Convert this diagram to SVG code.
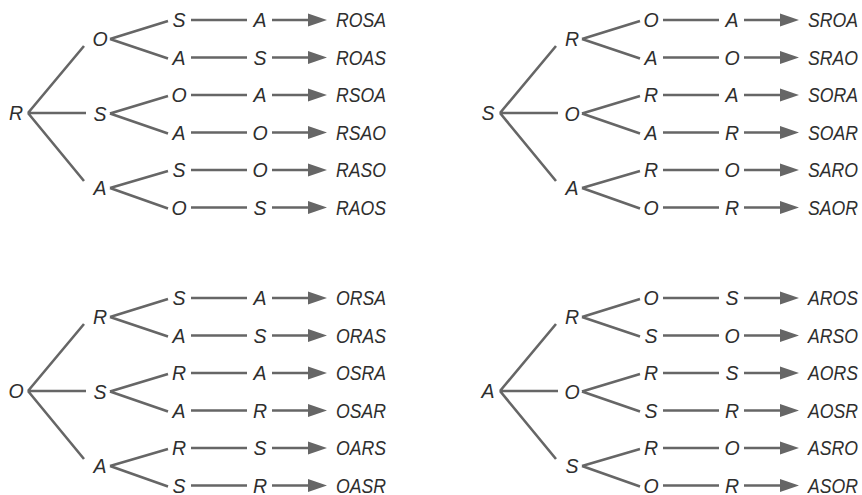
<svg xmlns="http://www.w3.org/2000/svg" width="862" height="495" viewBox="0 0 862 495">
<style>
text{font-family:"Liberation Sans",Arial,sans-serif;font-style:italic;font-size:19.5px;fill:#2e2e2e}
.c{text-anchor:middle}
.e path{fill:none;stroke:#666;stroke-width:2.6}
.e .a{marker-end:url(#ah)}
</style>
<defs>
<marker id="ah" markerUnits="userSpaceOnUse" markerWidth="20" markerHeight="14" refX="10" refY="6.5" orient="auto" overflow="visible">
<path d="M0,0 L19,6.5 L0,13 z" fill="#666"/>
</marker>
<g id="edges" class="e">
<path d="M28,113 L84,46 M28,113 L86,113 M28,113 L84,181"/>
<path d="M110,39 L168,21 M110,39 L168,58.5 M110,113.5 L168,96 M110,113.5 L168,133.5 M110,188 L168,171 M110,188 L168,208.5"/>
<path d="M191,20 L247,20 M191,57.5 L247,57.5 M191,95 L247,95 M191,132.5 L247,132.5 M191,170 L247,170 M191,207.5 L247,207.5"/>
<path class="a" d="M272,20 L318,20"/>
<path class="a" d="M272,57.5 L318,57.5"/>
<path class="a" d="M272,95 L318,95"/>
<path class="a" d="M272,132.5 L318,132.5"/>
<path class="a" d="M272,170 L318,170"/>
<path class="a" d="M272,207.5 L318,207.5"/>
</g>
</defs>
<g id="connectors">
<use href="#edges"/>
<use href="#edges" x="472"/>
<use href="#edges" y="278"/>
<use href="#edges" x="472" y="278"/>
</g>
<g id="tree-R">
<g id="R-root"><text class="c" x="16" y="119.5">R</text></g>
<g id="R-O"><text class="c" x="100" y="46">O</text></g>
<g id="R-S"><text class="c" x="100" y="120.5">S</text></g>
<g id="R-A"><text class="c" x="100" y="195">A</text></g>
<g id="ROSA"><text class="c" x="179" y="27">S</text><text class="c" x="260" y="27">A</text><text x="336" y="27" textLength="50" lengthAdjust="spacingAndGlyphs">ROSA</text></g>
<g id="ROAS"><text class="c" x="179" y="64.5">A</text><text class="c" x="260" y="64.5">S</text><text x="336" y="64.5" textLength="50" lengthAdjust="spacingAndGlyphs">ROAS</text></g>
<g id="RSOA"><text class="c" x="179" y="102">O</text><text class="c" x="260" y="102">A</text><text x="336" y="102" textLength="50" lengthAdjust="spacingAndGlyphs">RSOA</text></g>
<g id="RSAO"><text class="c" x="179" y="139.5">A</text><text class="c" x="260" y="139.5">O</text><text x="336" y="139.5" textLength="50" lengthAdjust="spacingAndGlyphs">RSAO</text></g>
<g id="RASO"><text class="c" x="179" y="177">S</text><text class="c" x="260" y="177">O</text><text x="336" y="177" textLength="50" lengthAdjust="spacingAndGlyphs">RASO</text></g>
<g id="RAOS"><text class="c" x="179" y="214.5">O</text><text class="c" x="260" y="214.5">S</text><text x="336" y="214.5" textLength="50" lengthAdjust="spacingAndGlyphs">RAOS</text></g>
</g>
<g id="tree-S" transform="translate(472,0)">
<g id="S-root"><text class="c" x="16" y="119.5">S</text></g>
<g id="S-R"><text class="c" x="100" y="46">R</text></g>
<g id="S-O"><text class="c" x="100" y="120.5">O</text></g>
<g id="S-A"><text class="c" x="100" y="195">A</text></g>
<g id="SROA"><text class="c" x="179" y="27">O</text><text class="c" x="260" y="27">A</text><text x="336" y="27" textLength="50" lengthAdjust="spacingAndGlyphs">SROA</text></g>
<g id="SRAO"><text class="c" x="179" y="64.5">A</text><text class="c" x="260" y="64.5">O</text><text x="336" y="64.5" textLength="50" lengthAdjust="spacingAndGlyphs">SRAO</text></g>
<g id="SORA"><text class="c" x="179" y="102">R</text><text class="c" x="260" y="102">A</text><text x="336" y="102" textLength="50" lengthAdjust="spacingAndGlyphs">SORA</text></g>
<g id="SOAR"><text class="c" x="179" y="139.5">A</text><text class="c" x="260" y="139.5">R</text><text x="336" y="139.5" textLength="50" lengthAdjust="spacingAndGlyphs">SOAR</text></g>
<g id="SARO"><text class="c" x="179" y="177">R</text><text class="c" x="260" y="177">O</text><text x="336" y="177" textLength="50" lengthAdjust="spacingAndGlyphs">SARO</text></g>
<g id="SAOR"><text class="c" x="179" y="214.5">O</text><text class="c" x="260" y="214.5">R</text><text x="336" y="214.5" textLength="50" lengthAdjust="spacingAndGlyphs">SAOR</text></g>
</g>
<g id="tree-O" transform="translate(0,278)">
<g id="O-root"><text class="c" x="16" y="119.5">O</text></g>
<g id="O-R"><text class="c" x="100" y="46">R</text></g>
<g id="O-S"><text class="c" x="100" y="120.5">S</text></g>
<g id="O-A"><text class="c" x="100" y="195">A</text></g>
<g id="ORSA"><text class="c" x="179" y="27">S</text><text class="c" x="260" y="27">A</text><text x="336" y="27" textLength="50" lengthAdjust="spacingAndGlyphs">ORSA</text></g>
<g id="ORAS"><text class="c" x="179" y="64.5">A</text><text class="c" x="260" y="64.5">S</text><text x="336" y="64.5" textLength="50" lengthAdjust="spacingAndGlyphs">ORAS</text></g>
<g id="OSRA"><text class="c" x="179" y="102">R</text><text class="c" x="260" y="102">A</text><text x="336" y="102" textLength="50" lengthAdjust="spacingAndGlyphs">OSRA</text></g>
<g id="OSAR"><text class="c" x="179" y="139.5">A</text><text class="c" x="260" y="139.5">R</text><text x="336" y="139.5" textLength="50" lengthAdjust="spacingAndGlyphs">OSAR</text></g>
<g id="OARS"><text class="c" x="179" y="177">R</text><text class="c" x="260" y="177">S</text><text x="336" y="177" textLength="50" lengthAdjust="spacingAndGlyphs">OARS</text></g>
<g id="OASR"><text class="c" x="179" y="214.5">S</text><text class="c" x="260" y="214.5">R</text><text x="336" y="214.5" textLength="50" lengthAdjust="spacingAndGlyphs">OASR</text></g>
</g>
<g id="tree-A" transform="translate(472,278)">
<g id="A-root"><text class="c" x="16" y="119.5">A</text></g>
<g id="A-R"><text class="c" x="100" y="46">R</text></g>
<g id="A-O"><text class="c" x="100" y="120.5">O</text></g>
<g id="A-S"><text class="c" x="100" y="195">S</text></g>
<g id="AROS"><text class="c" x="179" y="27">O</text><text class="c" x="260" y="27">S</text><text x="336" y="27" textLength="50" lengthAdjust="spacingAndGlyphs">AROS</text></g>
<g id="ARSO"><text class="c" x="179" y="64.5">S</text><text class="c" x="260" y="64.5">O</text><text x="336" y="64.5" textLength="50" lengthAdjust="spacingAndGlyphs">ARSO</text></g>
<g id="AORS"><text class="c" x="179" y="102">R</text><text class="c" x="260" y="102">S</text><text x="336" y="102" textLength="50" lengthAdjust="spacingAndGlyphs">AORS</text></g>
<g id="AOSR"><text class="c" x="179" y="139.5">S</text><text class="c" x="260" y="139.5">R</text><text x="336" y="139.5" textLength="50" lengthAdjust="spacingAndGlyphs">AOSR</text></g>
<g id="ASRO"><text class="c" x="179" y="177">R</text><text class="c" x="260" y="177">O</text><text x="336" y="177" textLength="50" lengthAdjust="spacingAndGlyphs">ASRO</text></g>
<g id="ASOR"><text class="c" x="179" y="214.5">O</text><text class="c" x="260" y="214.5">R</text><text x="336" y="214.5" textLength="50" lengthAdjust="spacingAndGlyphs">ASOR</text></g>
</g>
</svg>
